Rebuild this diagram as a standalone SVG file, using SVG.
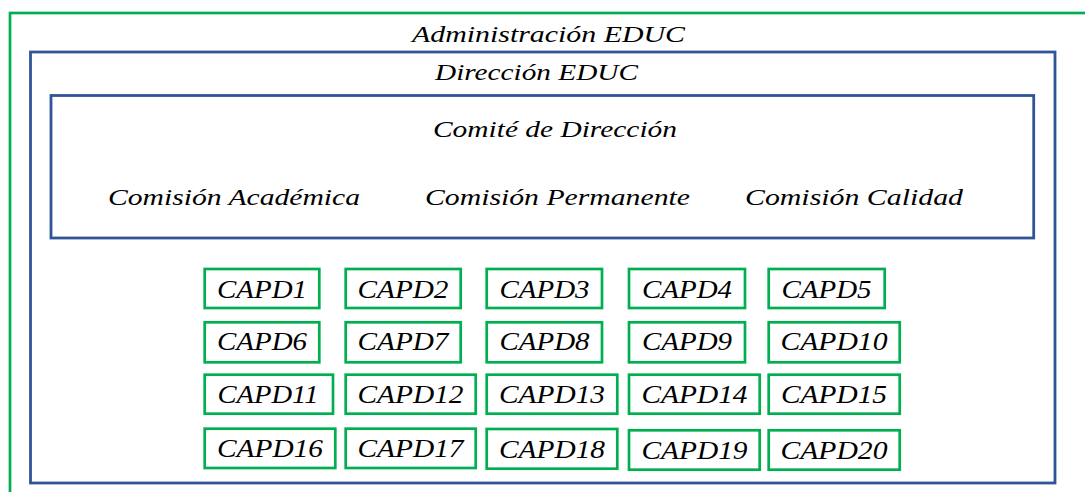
<svg xmlns="http://www.w3.org/2000/svg" width="1085" height="492" viewBox="0 0 1085 492">
<style>
.g{fill:none;stroke:#00B050;stroke-width:2.7}
.b{fill:none;stroke:#2F5597;stroke-width:2.8}
text{font-family:"Liberation Serif","Times New Roman",serif;font-style:italic;fill:#000}
.t{font-size:24px}
.c{font-size:26px;text-anchor:middle}
</style>
<rect width="1085" height="492" fill="#fff"/>
<g id="administracion">
<rect class="g" x="10" y="13" width="1100" height="500"/>
<text class="t" x="412" y="42" textLength="273" lengthAdjust="spacingAndGlyphs">Administración EDUC</text>
</g>
<g id="direccion">
<rect class="b" x="30.5" y="52" width="1024.5" height="431"/>
<text class="t" x="435" y="80" textLength="203" lengthAdjust="spacingAndGlyphs">Dirección EDUC</text>
</g>
<g id="comite">
<rect class="b" x="51" y="95.5" width="982.7" height="142.5"/>
<text class="t" x="433" y="137" textLength="244" lengthAdjust="spacingAndGlyphs">Comité de Dirección</text>
<text class="t" x="108" y="205" textLength="252" lengthAdjust="spacingAndGlyphs">Comisión Académica</text>
<text class="t" x="425" y="205" textLength="265" lengthAdjust="spacingAndGlyphs">Comisión Permanente</text>
<text class="t" x="745" y="205" textLength="218" lengthAdjust="spacingAndGlyphs">Comisión Calidad</text>
</g>
<g id="connectors"></g>
<g id="capd1"><rect class="g" x="204.7" y="269" width="114.6" height="39"/><text class="c" x="262" y="298" textLength="90" lengthAdjust="spacingAndGlyphs">CAPD1</text></g>
<g id="capd2"><rect class="g" x="345.7" y="269" width="115" height="39"/><text class="c" x="403" y="298" textLength="91" lengthAdjust="spacingAndGlyphs">CAPD2</text></g>
<g id="capd3"><rect class="g" x="486.7" y="269" width="115.3" height="39"/><text class="c" x="544.5" y="298" textLength="90" lengthAdjust="spacingAndGlyphs">CAPD3</text></g>
<g id="capd4"><rect class="g" x="629" y="269" width="116" height="39"/><text class="c" x="687" y="298" textLength="90" lengthAdjust="spacingAndGlyphs">CAPD4</text></g>
<g id="capd5"><rect class="g" x="768.7" y="269" width="116" height="39"/><text class="c" x="826.5" y="298" textLength="90" lengthAdjust="spacingAndGlyphs">CAPD5</text></g>
<g id="capd6"><rect class="g" x="204.7" y="322.3" width="114.6" height="40"/><text class="c" x="262" y="350" textLength="90" lengthAdjust="spacingAndGlyphs">CAPD6</text></g>
<g id="capd7"><rect class="g" x="345.7" y="322.3" width="115" height="40"/><text class="c" x="403" y="350" textLength="91" lengthAdjust="spacingAndGlyphs">CAPD7</text></g>
<g id="capd8"><rect class="g" x="486.7" y="322.3" width="115.3" height="40"/><text class="c" x="544.5" y="350" textLength="90" lengthAdjust="spacingAndGlyphs">CAPD8</text></g>
<g id="capd9"><rect class="g" x="629" y="322.3" width="116" height="40"/><text class="c" x="687" y="350" textLength="90" lengthAdjust="spacingAndGlyphs">CAPD9</text></g>
<g id="capd10"><rect class="g" x="768.7" y="322.3" width="131" height="40"/><text class="c" x="834" y="350" textLength="107" lengthAdjust="spacingAndGlyphs">CAPD10</text></g>
<g id="capd11"><rect class="g" x="204.7" y="374.7" width="128.3" height="39"/><text class="c" x="268" y="403" textLength="101" lengthAdjust="spacingAndGlyphs">CAPD11</text></g>
<g id="capd12"><rect class="g" x="345.7" y="374.7" width="130" height="39"/><text class="c" x="410.5" y="403" textLength="106" lengthAdjust="spacingAndGlyphs">CAPD12</text></g>
<g id="capd13"><rect class="g" x="486.7" y="374.7" width="130.6" height="39"/><text class="c" x="552" y="403" textLength="106" lengthAdjust="spacingAndGlyphs">CAPD13</text></g>
<g id="capd14"><rect class="g" x="629" y="374.7" width="130.7" height="39"/><text class="c" x="694.5" y="403" textLength="106" lengthAdjust="spacingAndGlyphs">CAPD14</text></g>
<g id="capd15"><rect class="g" x="768.7" y="374.7" width="131" height="39"/><text class="c" x="834" y="403" textLength="106" lengthAdjust="spacingAndGlyphs">CAPD15</text></g>
<g id="capd16"><rect class="g" x="204.7" y="428.7" width="130.6" height="39.3"/><text class="c" x="270" y="456.5" textLength="106" lengthAdjust="spacingAndGlyphs">CAPD16</text></g>
<g id="capd17"><rect class="g" x="345.7" y="428.7" width="130" height="39.3"/><text class="c" x="410.5" y="456.5" textLength="106" lengthAdjust="spacingAndGlyphs">CAPD17</text></g>
<g id="capd18"><rect class="g" x="486.7" y="429" width="130.6" height="39.7"/><text class="c" x="552" y="457.7" textLength="106" lengthAdjust="spacingAndGlyphs">CAPD18</text></g>
<g id="capd19"><rect class="g" x="629" y="430.3" width="130.7" height="39.4"/><text class="c" x="694.5" y="458.5" textLength="106" lengthAdjust="spacingAndGlyphs">CAPD19</text></g>
<g id="capd20"><rect class="g" x="768.7" y="430.3" width="131" height="39.4"/><text class="c" x="834" y="458.5" textLength="107" lengthAdjust="spacingAndGlyphs">CAPD20</text></g>
</svg>
